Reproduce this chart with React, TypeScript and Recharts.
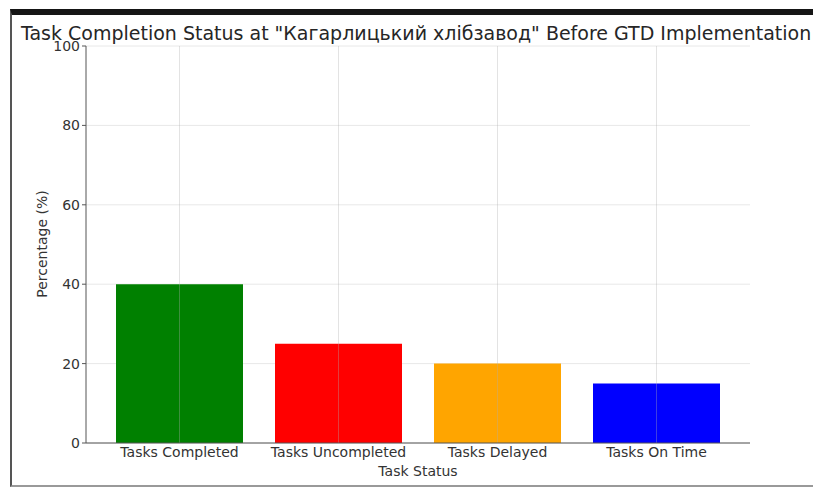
import React from "react";
import {
  BarChart,
  Bar,
  XAxis,
  YAxis,
  CartesianGrid,
  Cell,
  ReferenceLine,
  Label,
} from "recharts";

const categories = ["Tasks Completed", "Tasks Uncompleted", "Tasks Delayed", "Tasks On Time"];
const percentages = [40, 25, 20, 15];
const barColors = ["#008000", "#ff0000", "#ffa500", "#0000ff"];
const yTicks = [0, 20, 40, 60, 80, 100];

const data = categories.map((name, i) => ({ name, value: percentages[i] }));

const FONT = "'DejaVu Sans', sans-serif";
const TEXT = "#333";

export default function App() {
  return (
    <div
      style={{
        position: "absolute",
        left: 0,
        top: 0,
        width: 813,
        height: 489,
        background: "#fff",
        fontFamily: FONT,
        overflow: "hidden",
      }}
    >
      {/* screenshot frame */}
      <div
        style={{
          position: "absolute",
          left: 10,
          top: 9,
          width: 803,
          height: 478,
          borderTop: "6px solid #151515",
          borderLeft: "2px solid #555",
          borderBottom: "2px solid #999",
          boxSizing: "border-box",
        }}
      />
      <div
        style={{
          position: "absolute",
          left: 21,
          top: 20,
          fontSize: 19,
          color: "#262626",
          whiteSpace: "nowrap",
          lineHeight: "26px",
        }}
      >
        Task Completion Status at "Кагарлицький хлібзавод" Before GTD Implementation
      </div>
      <div style={{ position: "absolute", left: 0, top: 0 }}>
        <BarChart
          width={813}
          height={489}
          data={data}
          margin={{ top: 46, right: 63, bottom: 0, left: 0 }}
        >
          <CartesianGrid stroke="#e8e8e8" vertical={false} />
          <XAxis
            dataKey="name"
            padding={{ left: 14, right: 14 }}
            height={46}
            stroke="#555"
            tickLine={false}
            tickSize={4}
            tickMargin={0}
            tick={{ fill: TEXT, fontSize: 14, fontFamily: FONT }}
          >
            <Label
              content={() => (
                <text x={418} y={476} textAnchor="middle" fill={TEXT} fontSize={14} fontFamily={FONT}>
                  Task Status
                </text>
              )}
            />
          </XAxis>
          <YAxis
            domain={[0, 100]}
            ticks={yTicks}
            width={86}
            stroke="#555"
            tickSize={4}
            tickMargin={2}
            tick={{ fill: TEXT, fontSize: 14, fontFamily: FONT }}
          >
            <Label
              content={() => (
                <text
                  x={42}
                  y={244}
                  transform="rotate(-90 42 244)"
                  textAnchor="middle"
                  dominantBaseline="central"
                  fill={TEXT}
                  fontSize={14}
                  fontFamily={FONT}
                >
                  Percentage (%)
                </text>
              )}
            />
          </YAxis>
          <Bar dataKey="value" barSize={127} isAnimationActive={false}>
            {data.map((d, i) => (
              <Cell key={d.name} fill={barColors[i]} />
            ))}
          </Bar>
          {categories.map((c) => (
            <ReferenceLine key={c} x={c} stroke="#b0b0b0" strokeOpacity={0.35} />
          ))}
        </BarChart>
      </div>
    </div>
  );
}
